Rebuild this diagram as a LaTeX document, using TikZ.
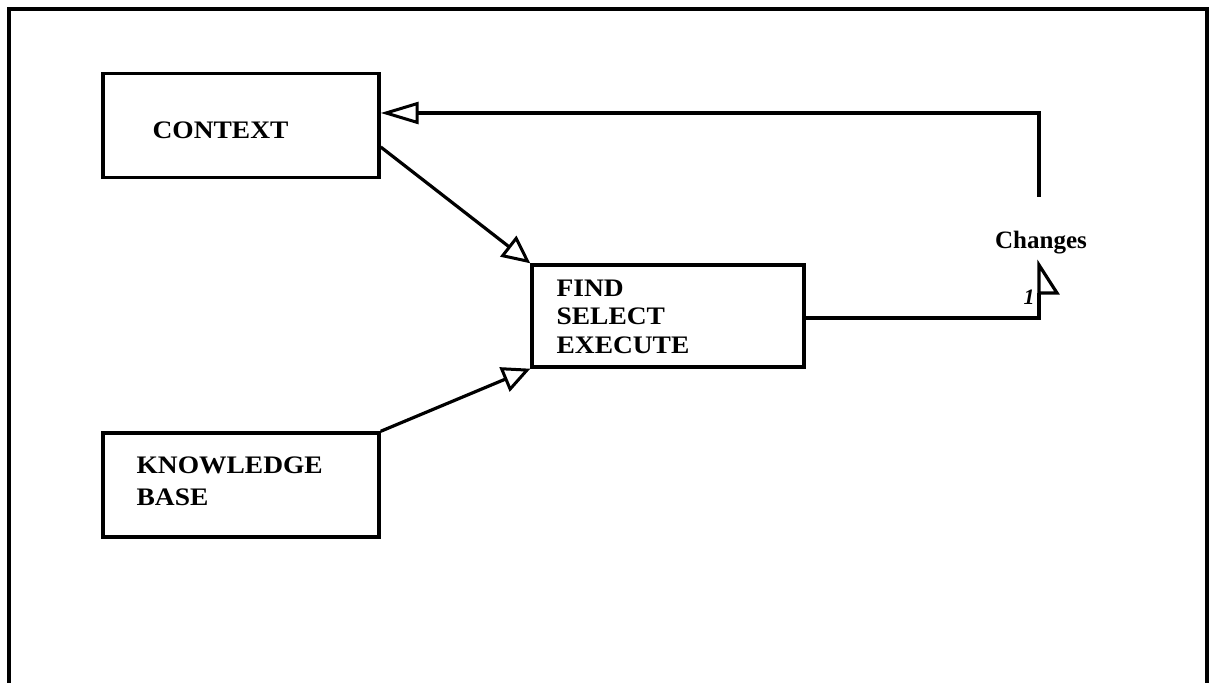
\documentclass[tikz,border=0pt]{standalone}
\usepackage{fontspec}
\setmainfont{Liberation Serif}
\newfontfamily\boxfont[FakeStretch=1.09]{Liberation Serif}
\usetikzlibrary{arrows.meta,calc}
\begin{document}
\begin{tikzpicture}[x=0.5pt,y=-0.5pt,
  line width=1.6pt,
  box/.style={draw,line width=1.7pt,minimum width=138pt,minimum height=52pt,inner sep=0pt},
  lbl/.style={font=\boxfont\fontsize{12.6}{14.3}\selectfont\bfseries,anchor=west,align=left,inner sep=0pt},
  diagtri/.style={-{Triangle[open,length=14pt,width=13pt,line width=1.5pt]}},
  longtri/.style={-{Triangle[open,length=19pt,width=11pt,line width=1.5pt]}}]
\useasboundingbox (0,0) rectangle (1211,683);
% outer frame
\draw[line width=2pt] (9,690) -- (9,9) -- (1207,9) -- (1207,690);
% boxes
\node[box] (ctx) at (241,125.5) {};
\node[box,minimum width=136pt,minimum height=51pt] (fse) at (668,316) {};
\node[box] (kb) at (241,485) {};
% texts
\node[lbl] (ctxt) at (151,130) {CONTEXT};
\node[lbl] (fset) at (555,316.5) {FIND\\SELECT\\EXECUTE};
\node[lbl,font=\boxfont\fontsize{12.6}{16}\selectfont\bfseries] (kbt) at (135,481) {KNOWLEDGE\\BASE};
\node[font=\fontsize{12.5}{15}\selectfont\bfseries,inner sep=0pt] (chg) at (1041,243) {Changes};
\node[font=\fontsize{11}{13}\selectfont\itshape\bfseries,inner sep=0pt] (one) at (1029,297) {1};
% connectors
\draw[diagtri] ($(ctx.north east)!0.7!(ctx.south east)$) -- (fse.north west);
\draw[diagtri] (kb.north east) -- (fse.south west);
\coordinate (c1) at (1039,318);
\coordinate (c2) at (1039,293);
\coordinate (c3) at (1039,265);
\coordinate (c4) at (1057,293);
\draw (fse.east |- c1) -- (c1) -- (c2);
\draw[line join=miter] (c2) -- (c3) -- (c4) -- (c2);
\coordinate (d1) at (1039,197);
\coordinate (d2) at (1039,113);
\draw[longtri] (d1) -- (d2) -- (ctx.east |- d2);
\end{tikzpicture}
\end{document}
